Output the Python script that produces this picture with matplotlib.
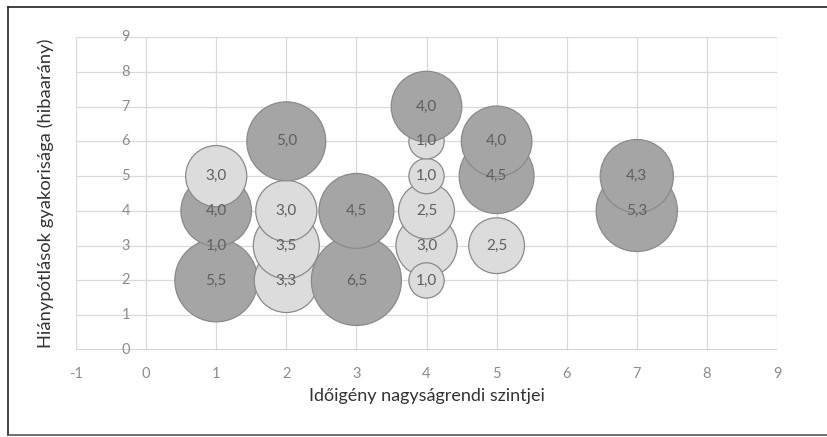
import matplotlib.pyplot as plt
from matplotlib.lines import Line2D

# bubble data, listed in drawing order (later points sit on top)
x_vals = [1, 1, 1, 1,
          2, 2, 2, 2,
          3, 3,
          4, 4, 4, 4, 4, 4,
          5, 5, 5,
          7, 7]
y_vals = [3, 2, 4, 5,
          2, 3, 4, 6,
          2, 4,
          3, 2, 4, 5, 6, 7,
          3, 5, 6,
          4, 5]
sizes = [1.0, 5.5, 4.0, 3.0,
         3.3, 3.5, 3.0, 5.0,
         6.5, 4.5,
         3.0, 1.0, 2.5, 1.0, 1.0, 4.0,
         2.5, 4.5, 4.0,
         5.3, 4.3]
is_dark = [False, True, True, False,
           False, False, False, True,
           True, True,
           False, False, False, False, False, True,
           False, True, True,
           True, True]

x_ticks = list(range(-1, 10))
y_ticks = list(range(0, 10))
x_title = 'Időigény nagyságrendi szintjei'
y_title = 'Hiánypótlások gyakorisága (hibaarány)'

plt.rcParams['font.family'] = ['Lato', 'DejaVu Sans']

fig = plt.figure(figsize=(8.27, 4.37), dpi=100)
ax = fig.add_axes([76 / 827, 1 - 350 / 437, 701 / 827, 313 / 437])

ax.set_xlim(-1, 9)
ax.set_ylim(0, 9)

# gridlines
for xv in x_ticks:
    ax.axvline(xv, color='#d9d9d9', lw=0.9, zorder=0)
for yv in y_ticks:
    ax.axhline(yv, color='#d9d9d9', lw=0.9, zorder=0)
ax.axhline(0, color='#c8c8c8', lw=1.1, zorder=0.5)

for s in ax.spines.values():
    s.set_visible(False)

ax.set_xticks(x_ticks)
ax.set_xticklabels([str(v) for v in x_ticks])
ax.set_yticks(y_ticks)
ax.set_yticklabels([])
ax.tick_params(axis='both', length=0, colors='#8c8c8c', labelsize=10.5)
ax.tick_params(axis='x', pad=12)

# y tick labels sit left of the x = 0 line, over the gridlines
for yv in y_ticks:
    ax.text(-0.29, yv, str(yv), ha='center', va='center', fontsize=10.5,
            color='#8c8c8c', zorder=1)

colors = ['#a5a5a5' if d else '#dcdcdc' for d in is_dark]
area = [646 * v for v in sizes]
ax.scatter(x_vals, y_vals, s=area, c=colors, edgecolors='#8a8a8a',
           linewidths=0.9, zorder=3, clip_on=False)

for xv, yv, v in zip(x_vals, y_vals, sizes):
    ax.text(xv, yv, f'{v:.1f}'.replace('.', ','), ha='center', va='center',
            fontsize=11, color='#5f5f5f', zorder=4)

ax.set_xlabel(x_title, fontsize=13, color='#333333')
ax.set_ylabel(y_title, fontsize=13.2, color='#333333')
ax.xaxis.set_label_coords(0.5, -38 / 313)
ax.yaxis.set_label_coords(-22 / 701, 0.5)

# chart border
fig.add_artist(Line2D([8 / 827, 8 / 827], [1 - 7 / 437, 1 - 435 / 437],
                      color='#222222', lw=1.2, transform=fig.transFigure))
fig.add_artist(Line2D([8 / 827, 1], [1 - 7 / 437, 1 - 7 / 437],
                      color='#222222', lw=1.2, transform=fig.transFigure))
fig.add_artist(Line2D([8 / 827, 1], [1 - 435 / 437, 1 - 435 / 437],
                      color='#555555', lw=1.2, transform=fig.transFigure))

fig.savefig('out.png', dpi=100)
